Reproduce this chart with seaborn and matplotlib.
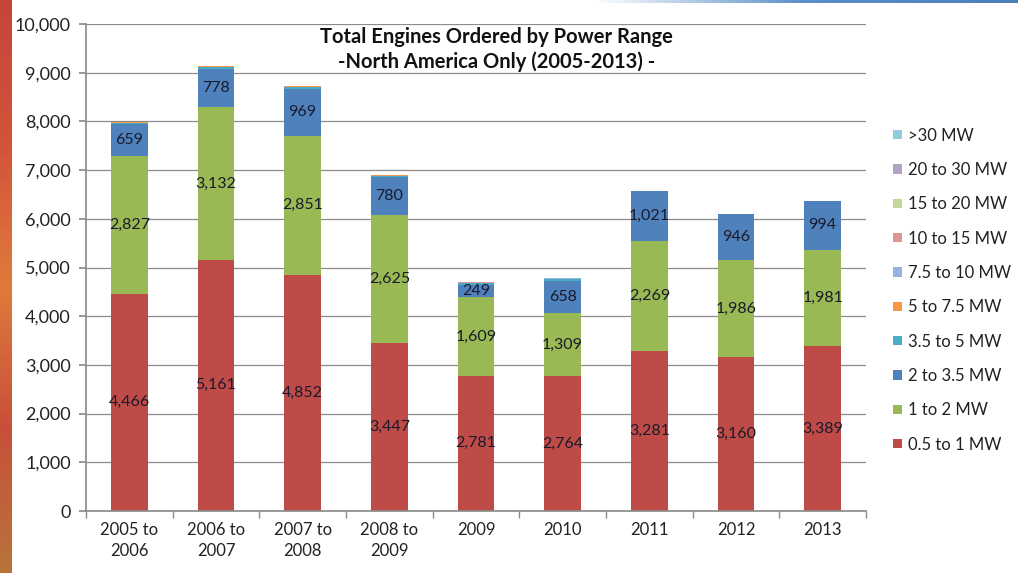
import numpy as np
import pandas as pd
import matplotlib
matplotlib.use("Agg")
import matplotlib.pyplot as plt
from matplotlib.patches import Patch
from matplotlib.colors import LinearSegmentedColormap
import seaborn as sns

categories = ["2005 to\n2006", "2006 to\n2007", "2007 to\n2008", "2008 to\n2009",
              "2009", "2010", "2011", "2012", "2013"]
series_names = ["0.5 to 1 MW", "1 to 2 MW", "2 to 3.5 MW", "3.5 to 5 MW", "5 to 7.5 MW",
                "7.5 to 10 MW", "10 to 15 MW", "15 to 20 MW", "20 to 30 MW", ">30 MW"]
mw_05_1 = [4466, 5161, 4852, 3447, 2781, 2764, 3281, 3160, 3389]
mw_1_2 = [2827, 3132, 2851, 2625, 1609, 1309, 2269, 1986, 1981]
mw_2_35 = [659, 778, 969, 780, 249, 658, 1021, 946, 994]
mw_35_5 = [25, 45, 35, 30, 35, 30, 5, 5, 5]
mw_5_75 = [10, 20, 15, 12, 15, 12, 2, 2, 2]
mw_75_10 = [3, 5, 5, 3, 3, 3, 0, 0, 0]
mw_10_15 = [2, 3, 3, 2, 2, 2, 0, 0, 0]
mw_15_20 = [1, 2, 2, 1, 1, 1, 0, 0, 0]
mw_20_30 = [1, 1, 1, 1, 1, 1, 0, 0, 0]
mw_30 = [0, 1, 1, 0, 0, 0, 0, 0, 0]

values = [mw_05_1, mw_1_2, mw_2_35, mw_35_5, mw_5_75, mw_75_10, mw_10_15, mw_15_20, mw_20_30, mw_30]
colors = ["#BE4B48", "#98B954", "#4F81BD", "#4BACC6", "#F79646",
          "#95B3D7", "#D99694", "#C3D69B", "#B3A2C7", "#93CDDD"]

sns.set_theme(style="white")
plt.rcParams["font.family"] = ["Lato", "DejaVu Sans"]

fig = plt.figure(figsize=(10.18, 5.73), dpi=100)
fig.patch.set_facecolor("white")
ax = fig.add_axes([0.0845, 0.1082, 0.7662, 0.8498])

df = pd.DataFrame({"cat": categories})
cum = np.cumsum(np.array(values), axis=0)
for i in reversed(range(len(values))):
    df["v"] = cum[i]
    sns.barplot(data=df, x="cat", y="v", color=colors[i], width=0.42, ax=ax,
                saturation=1, linewidth=0, errorbar=None)

# data labels for the main three series
for i in range(3):
    bottoms = cum[i] - np.array(values[i])
    for j, v in enumerate(values[i]):
        ax.text(j, bottoms[j] + v / 2, f"{v:,}", ha="center", va="center",
                fontsize=11.5, color="#1a1a2a")

ax.set_ylim(0, 10000)
ax.set_xlim(-0.5, len(categories) - 0.5)
ax.set_yticks(np.arange(0, 10001, 1000))
ax.set_yticklabels([f"{t:,}" for t in range(0, 10001, 1000)], fontsize=13, color="#222222")
ax.yaxis.grid(True, color="#8c8c8c", linewidth=0.9)
ax.set_axisbelow(True)
ax.set_xlabel("")
ax.set_ylabel("")
ax.tick_params(axis="x", labelsize=12, colors="#222222", length=0, pad=8)
for lbl in ax.get_xticklabels():
    lbl.set_linespacing(1.35)
ax.tick_params(axis="y", left=True, length=5, color="#8c8c8c", pad=6)
for s in ["top", "right"]:
    ax.spines[s].set_visible(False)
ax.spines["left"].set_color("#8c8c8c")
ax.spines["bottom"].set_color("#8c8c8c")
ax.set_xticks(np.arange(-0.5, len(categories) - 0.4, 1), minor=True)
ax.tick_params(axis="x", which="minor", bottom=True, length=5, color="#8c8c8c")
ax.set_facecolor("white")

fig.text(0.488, 0.936, "Total Engines Ordered by Power Range", ha="center", va="center",
         fontsize=14.5, fontweight="bold", color="#111111")
fig.text(0.488, 0.892, "-North America Only (2005-2013) -", ha="center", va="center",
         fontsize=14.5, fontweight="bold", color="#111111")

handles = [Patch(facecolor=colors[i], edgecolor="none", label=series_names[i])
           for i in reversed(range(len(series_names)))]
leg = fig.legend(handles=handles, loc="upper left", bbox_to_anchor=(0.871, 0.789),
                 frameon=False, fontsize=12, handlelength=0.5, handleheight=0.5,
                 handletextpad=0.4, labelspacing=1.1, borderaxespad=0)
for t in leg.get_texts():
    t.set_color("#222222")

# decorative slide edges
strip = fig.add_axes([0, 0, 0.011, 1])
cmap = LinearSegmentedColormap.from_list("edge", ["#C4463A", "#D2543A", "#E07A3C", "#C8503A", "#B8733A"])
strip.imshow(np.linspace(0, 1, 100).reshape(-1, 1), aspect="auto", cmap=cmap)
strip.set_axis_off()
top = fig.add_axes([0.58, 0.995, 0.42, 0.005])
top.imshow(np.linspace(0, 1, 100).reshape(1, -1), aspect="auto",
           cmap=LinearSegmentedColormap.from_list("t", ["#FFFFFF", "#5B8FC8", "#4A7FB8"]))
top.set_axis_off()

fig.savefig("out.png", dpi=100)
